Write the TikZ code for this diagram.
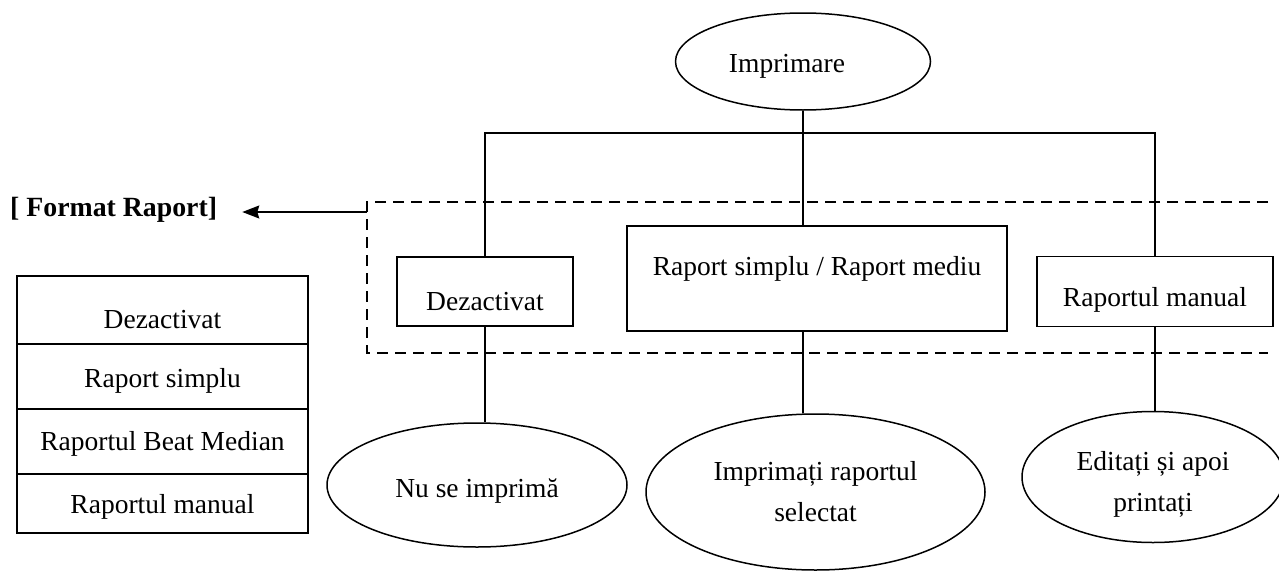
\documentclass[tikz,border=0pt]{standalone}
\usepackage{fontspec}
\setmainfont{Liberation Serif}
\usetikzlibrary{arrows.meta, positioning, shapes.geometric}
\newcommand{\dropby}[2]{\raisebox{-#1}[\height][\depth]{#2}}
\tikzset{
  menubox/.style = {draw, rectangle, inner sep=0pt, outer sep=0pt, line width=1.5pt},
  optcell/.style = {menubox, minimum width=291pt},
  endoval/.style = {draw, ellipse, inner sep=0pt, line width=1.5pt, align=center},
  link/.style    = {line width=1.5pt},
  grpline/.style = {line width=1.5pt, dash pattern=on 11pt off 7pt},
  pointer/.style = {-{Stealth[length=17pt, width=13pt, inset=2pt]}, line width=1.5pt},
}

\begin{document}
\begin{tikzpicture}[x=1pt, y=-1pt, font=\fontsize{27.5}{41}\selectfont]
  \useasboundingbox (0,0) rectangle (1279,570);
  % tree
  \node[endoval, minimum width=255pt, minimum height=97pt] (top) at (803,61.5) {\dropby{5pt}{\hspace*{-32pt}Imprimare}};
  \node[menubox, minimum width=176pt, minimum height=69pt] (off) at (485,291.5) {\dropby{10pt}{Dezactivat}};
  \node[menubox, minimum width=380pt, minimum height=105pt] (simple) at (817,278.5) {\dropby{-10pt}{Raport simplu / Raport mediu}};
  \node[menubox, minimum width=236pt, minimum height=70pt] (manual) at (1155,291.5) {\dropby{8pt}{Raportul manual}};
  \node[endoval, minimum width=300pt, minimum height=124pt] (noprint) at (477,485) {\dropby{6pt}{Nu se imprimă}};
  \node[endoval, minimum width=339pt, minimum height=156pt, inner xsep=-40pt] (print) at (815.5,492) {Imprimați raportul\\selectat};
  \node[endoval, minimum width=262pt, minimum height=131pt] (edit) at (1153,477) {\dropby{6pt}{\begin{tabular}{@{}c@{}}Editați și apoi\\printați\end{tabular}}};
  \coordinate (bus) at (803,133);
  \draw[link] (top) -- (bus);
  \draw[link] (off.north) |- (bus) -| (manual.north);
  \draw[link] (bus) -- (bus |- simple.north);
  \draw[link] (off.south) -- (off.south |- noprint.north);
  \draw[link] (simple.south -| bus) -- (bus |- print.north);
  \draw[link] (manual.south) -- (manual.south |- edit.north);
  % format group
  \draw[grpline] (1268,202) -- (367,202) -- (367,353) -- (1268,353);
  \coordinate (grp) at (367,212);
  \node[font=\fontsize{27.8}{34}\selectfont\bfseries, inner sep=0pt, anchor=base west] (fmt) at (10,216) {[ Format Raport]};
  \draw[pointer, shorten >=25pt] (grp) -- (grp -| fmt.east);
  % options table
  \node[optcell, minimum height=68pt] (opt1) at (162.5,310) {\dropby{10pt}{Dezactivat}};
  \node[optcell, minimum height=65pt, below=0pt of opt1] (opt2) {\dropby{4.5pt}{Raport simplu}};
  \node[optcell, minimum height=65pt, below=0pt of opt2] (opt3) {\dropby{2.5pt}{Raportul Beat Median}};
  \node[optcell, minimum height=59pt, below=0pt of opt3] (opt4) {\dropby{3pt}{Raportul manual}};
\end{tikzpicture}
\end{document}
